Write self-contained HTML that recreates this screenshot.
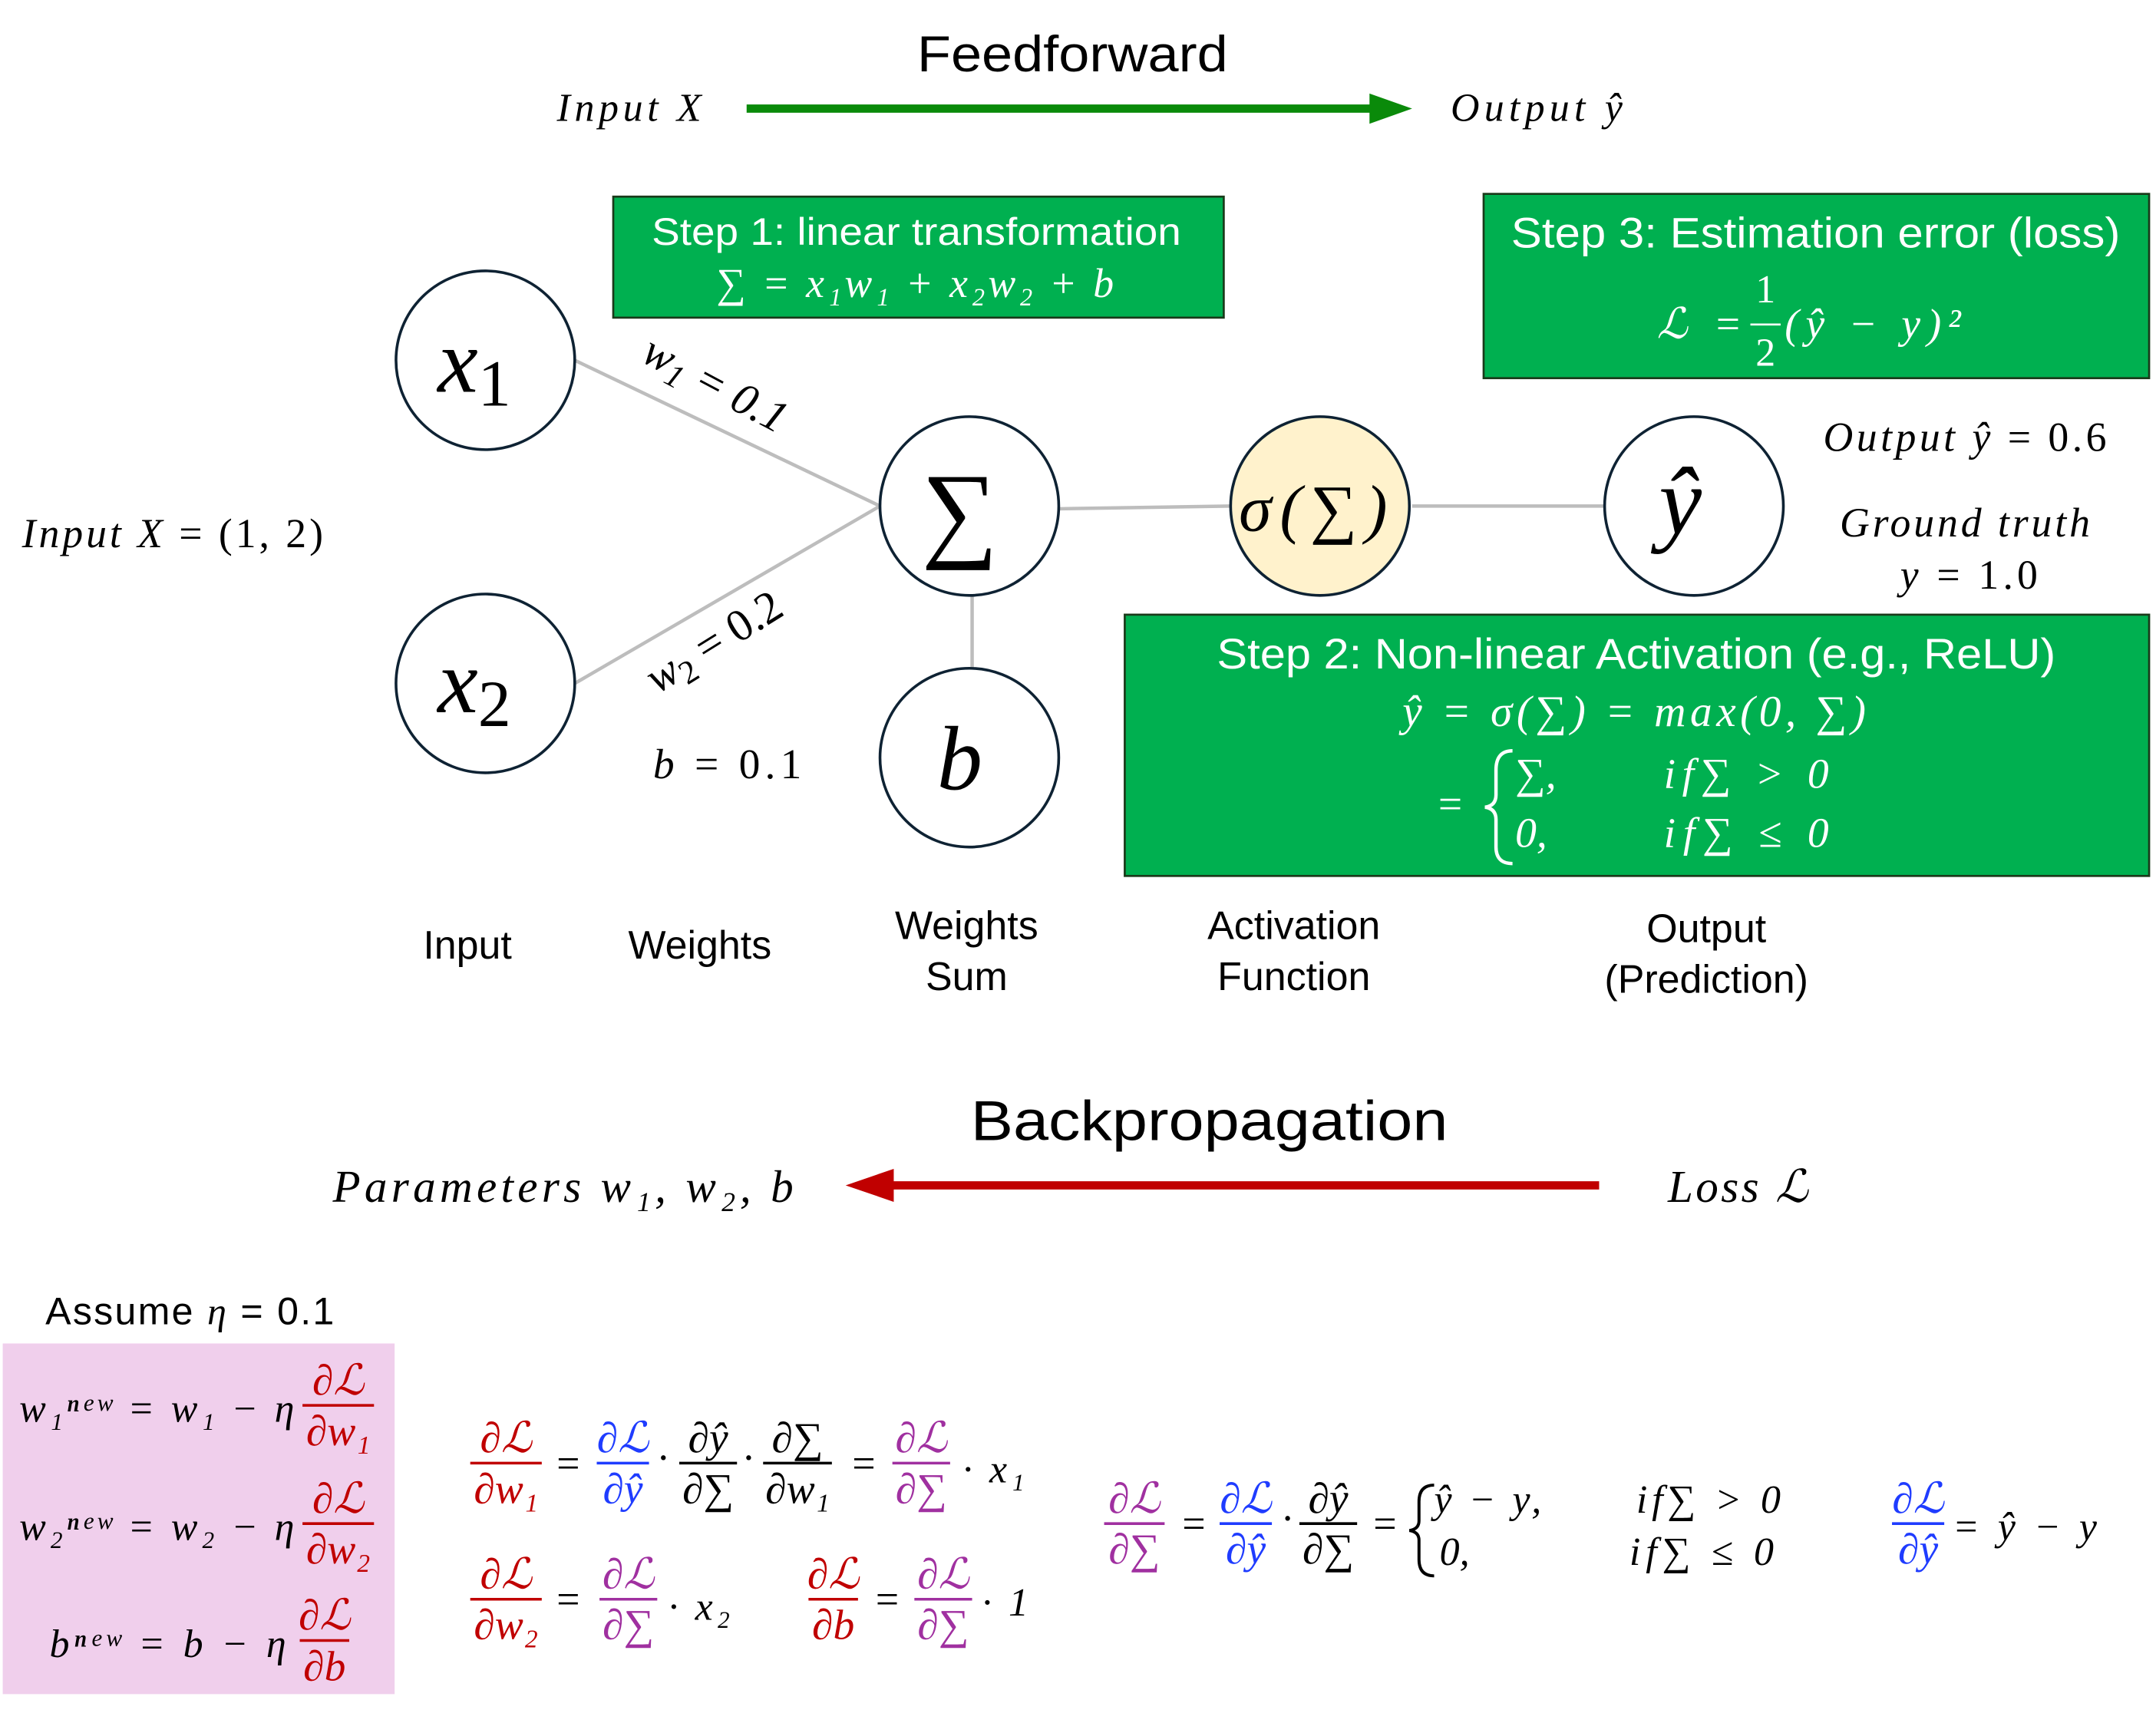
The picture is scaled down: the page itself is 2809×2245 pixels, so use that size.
<!DOCTYPE html>
<html><head><meta charset="utf-8"><style>
html,body{margin:0;padding:0;background:#fff;}
svg{display:block}
text{font-family:"Liberation Serif","DejaVu Serif",serif;}
.s{font-family:"Liberation Sans","DejaVu Sans",sans-serif;font-style:normal}
.i{font-style:italic}
</style></head><body>
<svg id="fig" width="2809" height="2245" viewBox="0 0 1568 1253" preserveAspectRatio="none" xmlns="http://www.w3.org/2000/svg">
<rect width="1568" height="1253" fill="#fff"/>
<!-- Feedforward -->
<text class="s" x="667" y="52" font-size="37" textLength="226" lengthAdjust="spacingAndGlyphs">Feedforward</text>
<text class="i" x="405" y="88" font-size="29" textLength="105">Input X</text>
<line x1="543" y1="79" x2="1000" y2="79" stroke="#0a8a0a" stroke-width="6"/>
<polygon points="996,68 1027,79 996,90" fill="#0a8a0a"/>
<text class="i" x="1055" y="88" font-size="29" textLength="125">Output ŷ</text>

<!-- Step boxes -->
<g>
<rect x="446" y="143" width="444" height="88" fill="#00b050" stroke="#1a3a1a" stroke-width="1.5"/>
<text class="s" x="474" y="178" font-size="28" fill="#fff" textLength="385" lengthAdjust="spacingAndGlyphs">Step 1: linear transformation</text>
<text class="i" x="521" y="216" font-size="30" fill="#fff" textLength="289">∑ = x₁w₁ + x₂w₂ + b</text>
</g>
<g>
<rect x="1079" y="141" width="484" height="134" fill="#00b050" stroke="#1a3a1a" stroke-width="1.5"/>
<text class="s" x="1099" y="180" font-size="31" fill="#fff" textLength="443" lengthAdjust="spacingAndGlyphs">Step 3: Estimation error (loss)</text>
<text class="i" x="1205" y="246" font-size="31" fill="#fff" textLength="62">ℒ =</text>
<text x="1284" y="220" font-size="29" fill="#fff" text-anchor="middle">1</text>
<line x1="1273" y1="236" x2="1295" y2="236" stroke="#fff" stroke-width="1.5"/>
<text x="1284" y="266" font-size="29" fill="#fff" text-anchor="middle">2</text>
<text class="i" x="1298" y="246" font-size="31" fill="#fff" textLength="128">(ŷ − y)²</text>
</g>
<g>
<rect x="818" y="447" width="745" height="190" fill="#00b050" stroke="#1a3a1a" stroke-width="1.5"/>
<text class="s" x="885" y="486" font-size="31" fill="#fff" textLength="610" lengthAdjust="spacingAndGlyphs">Step 2: Non-linear Activation (e.g., ReLU)</text>
<text class="i" x="1020" y="528" font-size="32" fill="#fff" textLength="337">ŷ = σ(∑) = max(0, ∑)</text>
<text x="1046" y="595" font-size="31" fill="#fff">=</text>
<path d="M1100,546 Q1088,546 1088,560 L1088,578 Q1088,586 1080,587 Q1088,588 1088,596 L1088,616 Q1088,628 1100,628" fill="none" stroke="#fff" stroke-width="2.5"/>
<text class="i" x="1102" y="573" font-size="31" fill="#fff">∑,</text>
<text class="i" x="1102" y="616" font-size="31" fill="#fff">0,</text>
<text class="i" x="1210" y="573" font-size="31" fill="#fff" textLength="120">if∑ &gt; 0</text>
<text class="i" x="1210" y="616" font-size="31" fill="#fff" textLength="120">if∑ ≤ 0</text>
</g>

<!-- connections -->
<g stroke="#bdbdbd" stroke-width="2.5">
<line x1="418" y1="262" x2="640" y2="368"/>
<line x1="418" y1="497" x2="640" y2="368"/>
<line x1="770" y1="370" x2="895" y2="368"/>
<line x1="1027" y1="368" x2="1167" y2="368"/>
<line x1="707" y1="433" x2="707" y2="487"/>
</g>

<!-- nodes -->
<g><circle cx="353" cy="262" r="65" fill="#fff" stroke="#0e2233" stroke-width="2"/><text class="i" x="345" y="285" font-size="66" text-anchor="middle">x<tspan font-size="48" dy="10" font-style="normal">1</tspan></text></g>
<g><circle cx="353" cy="497" r="65" fill="#fff" stroke="#0e2233" stroke-width="2"/><text class="i" x="345" y="518" font-size="66" text-anchor="middle">x<tspan font-size="48" dy="10" font-style="normal">2</tspan></text></g>
<g><circle cx="705" cy="368" r="65" fill="#fff" stroke="#0e2233" stroke-width="2"/><text x="698" y="398" font-size="78" text-anchor="middle">∑</text></g>
<g><circle cx="705" cy="551" r="65" fill="#fff" stroke="#0e2233" stroke-width="2"/><text class="i" x="698" y="574" font-size="66" text-anchor="middle">b</text></g>
<g><circle cx="960" cy="368" r="65" fill="#fff2cc" stroke="#0e2233" stroke-width="2"/><text class="i" x="955" y="386" font-size="48" text-anchor="middle" textLength="108">σ(∑)</text></g>
<g><circle cx="1232" cy="368" r="65" fill="#fff" stroke="#0e2233" stroke-width="2"/><text class="i" x="1222" y="388" font-size="70" text-anchor="middle">ŷ</text></g>

<text class="i" x="0" y="0" font-size="33" transform="translate(465,262) rotate(28)">w<tspan font-size="24" dy="6">1</tspan><tspan dy="-6"> = 0.1</tspan></text>
<text class="i" x="0" y="0" font-size="33" transform="translate(478,505) rotate(-32)">w<tspan font-size="24" dy="6" font-style="normal">2</tspan><tspan dy="-6" font-style="normal"> = 0.2</tspan></text>
<text class="i" x="475" y="566" font-size="31" textLength="108">b <tspan font-style="normal">= 0.1</tspan></text>
<text class="i" x="16" y="398" font-size="30" textLength="219">Input X <tspan font-style="normal">= (1, 2)</tspan></text>
<text class="i" x="1326" y="328" font-size="30" textLength="206">Output ŷ <tspan font-style="normal">= 0.6</tspan></text>
<text class="i" x="1338" y="390" font-size="30" textLength="182">Ground truth</text>
<text class="i" x="1382" y="428" font-size="30" textLength="100">y <tspan font-style="normal">= 1.0</tspan></text>

<!-- stage labels -->
<g class="s" font-size="29" text-anchor="middle">
<text class="s" x="340" y="697">Input</text>
<text class="s" x="509" y="697">Weights</text>
<text class="s" x="703" y="683">Weights</text><text class="s" x="703" y="720">Sum</text>
<text class="s" x="941" y="683">Activation</text><text class="s" x="941" y="720">Function</text>
<text class="s" x="1241" y="685">Output</text><text class="s" x="1241" y="722">(Prediction)</text>
</g>

<!-- Backprop -->
<text class="s" x="706" y="829" font-size="41" textLength="347" lengthAdjust="spacingAndGlyphs">Backpropagation</text>
<text class="i" x="242" y="874" font-size="33" textLength="335">Parameters  w₁, w₂, b</text>
<line x1="1163" y1="862" x2="645" y2="862" stroke="#c00000" stroke-width="6"/>
<polygon points="650,850 615,862 650,874" fill="#c00000"/>
<text class="i" x="1213" y="874" font-size="33" textLength="102">Loss ℒ</text>

<text class="s" x="33" y="963" font-size="28" textLength="210">Assume <tspan font-family="Liberation Serif" font-style="italic">η</tspan> = 0.1</text>
<rect x="2" y="977" width="285" height="255" fill="#f0cfec"/>
<path d="M1043,1080 Q1032,1080 1032,1092 L1032,1106 Q1032,1112 1025,1113 Q1032,1114 1032,1120 L1032,1134 Q1032,1146 1043,1146" fill="none" stroke="#000" stroke-width="2.2"/>
<g id="eq" font-size="30"></g>
</svg>
<script>
const R='#c00000',B='#1f3cff',P='#a030a0',K='#000';
const NS='http://www.w3.org/2000/svg';
const g=document.getElementById('eq');
function txt(x,y,s,c,sz,anchor,name,len){
  const t=document.createElementNS(NS,'text');
  t.setAttribute('x',x);t.setAttribute('y',y);t.setAttribute('fill',c||K);
  t.setAttribute('font-size',sz||30);t.setAttribute('font-style','italic');
  if(anchor)t.setAttribute('text-anchor',anchor);
  if(len)t.setAttribute('textLength',len);
  t.textContent=s;
  
  
  g.appendChild(t);return t;
}
function frac(cx,yb,num,den,c,w){
  w=w||40;
  txt(cx,yb-8,num,c,31,'middle','fraction-numerator');
  const l=document.createElementNS(NS,'line');
  l.setAttribute('x1',cx-w/2);l.setAttribute('x2',cx+w/2);l.setAttribute('y1',yb);l.setAttribute('y2',yb);
  l.setAttribute('stroke',c);l.setAttribute('stroke-width',2);
  
  
  g.appendChild(l);
  txt(cx,yb+29,den,c,31,'middle','fraction-denominator');
}
// update rules
txt(14,1034,'w₁ⁿᵉʷ = w₁ − η',K,29,null,'update-w1',200);frac(246,1022,'∂ℒ','∂w₁',R,52);
txt(14,1120,'w₂ⁿᵉʷ = w₂ − η',K,29,null,'update-w2',200);frac(246,1108,'∂ℒ','∂w₂',R,52);
txt(36,1205,'bⁿᵉʷ = b − η',K,29,null,'update-b',172);frac(236,1193,'∂ℒ','∂b',R,36);
// chain rule row 1
frac(368,1064,'∂ℒ','∂w₁',R,52);txt(413,1074,'=',K,30,'middle');
frac(453,1064,'∂ℒ','∂ŷ',B,38);txt(482,1070,'·',K,30,'middle');
frac(515,1064,'∂ŷ','∂∑',K,42);txt(544,1070,'·',K,30,'middle');
frac(580,1064,'∂∑','∂w₁',K,50);txt(628,1074,'=',K,30,'middle');
frac(670,1064,'∂ℒ','∂∑',P,42);txt(700,1078,'· x₁',K,29,null,'x1-factor',45);
// row 2
frac(368,1163,'∂ℒ','∂w₂',R,52);txt(413,1173,'=',K,30,'middle');
frac(457,1163,'∂ℒ','∂∑',P,42);txt(486,1178,'· x₂',K,29,null,'x2-factor',45);
frac(606,1163,'∂ℒ','∂b',R,36);txt(645,1173,'=',K,30,'middle');
frac(686,1163,'∂ℒ','∂∑',P,42);txt(714,1175,'· 1',K,29,null,'one-factor',34);
// right
frac(825,1108,'∂ℒ','∂∑',P,44);txt(868,1118,'=',K,30,'middle');
frac(906,1108,'∂ℒ','∂ŷ',B,38);txt(936,1114,'·',K,30,'middle');
frac(966,1108,'∂ŷ','∂∑',K,42);txt(1007,1118,'=',K,30,'middle');
txt(1043,1100,'ŷ − y,',K,29,null,'case-1',78);txt(1047,1138,'0,',K,29);
txt(1190,1100,'if∑ > 0',K,29,null,'cond-1',105);txt(1185,1138,'if∑ ≤ 0',K,29,null,'cond-2',105);
frac(1395,1108,'∂ℒ','∂ŷ',B,38);txt(1420,1120,'= ŷ − y',K,29,null,'dl-dyhat',105);
</script>
</body></html>
